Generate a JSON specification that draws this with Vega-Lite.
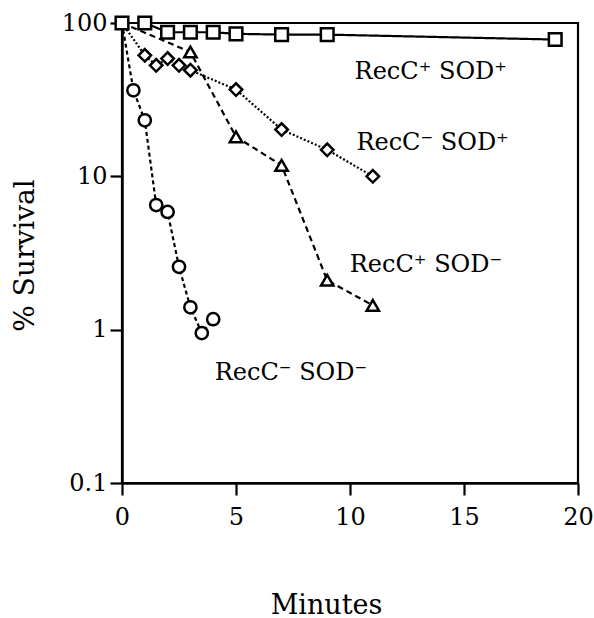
{
  "$schema": "https://vega.github.io/schema/vega-lite/v6.json",
  "autosize": "none",
  "width": 456,
  "height": 460,
  "padding": {"left": 122, "top": 23, "right": 16, "bottom": 135},
  "background": "white",
  "config": {
    "font": "DejaVu Serif",
    "view": {"stroke": "black", "strokeWidth": 2.2},
    "axis": {"grid": false, "domainColor": "black", "domainWidth": 2.5, "tickColor": "black", "tickWidth": 2.2, "tickSize": 12, "labelFont": "DejaVu Serif", "labelFontSize": 24, "labelColor": "black", "titleFont": "DejaVu Serif", "titleColor": "black", "titleFontWeight": "normal"}
  },
  "datasets": {
    "survival": [
      {"strain": "RecC+ SOD+", "minutes": 0, "survival": 100},
      {"strain": "RecC+ SOD+", "minutes": 1, "survival": 100},
      {"strain": "RecC+ SOD+", "minutes": 2, "survival": 87},
      {"strain": "RecC+ SOD+", "minutes": 3, "survival": 87},
      {"strain": "RecC+ SOD+", "minutes": 4, "survival": 87},
      {"strain": "RecC+ SOD+", "minutes": 5, "survival": 85},
      {"strain": "RecC+ SOD+", "minutes": 7, "survival": 84},
      {"strain": "RecC+ SOD+", "minutes": 9, "survival": 84},
      {"strain": "RecC+ SOD+", "minutes": 19, "survival": 78},
      {"strain": "RecC- SOD+", "minutes": 0, "survival": 100},
      {"strain": "RecC- SOD+", "minutes": 1, "survival": 61.6},
      {"strain": "RecC- SOD+", "minutes": 1.5, "survival": 53},
      {"strain": "RecC- SOD+", "minutes": 2, "survival": 58.6},
      {"strain": "RecC- SOD+", "minutes": 2.5, "survival": 53},
      {"strain": "RecC- SOD+", "minutes": 3, "survival": 49.2},
      {"strain": "RecC- SOD+", "minutes": 5, "survival": 36.8},
      {"strain": "RecC- SOD+", "minutes": 7, "survival": 20.2},
      {"strain": "RecC- SOD+", "minutes": 9, "survival": 14.9},
      {"strain": "RecC- SOD+", "minutes": 11, "survival": 10},
      {"strain": "RecC+ SOD-", "minutes": 0, "survival": 100},
      {"strain": "RecC+ SOD-", "minutes": 3, "survival": 64.7},
      {"strain": "RecC+ SOD-", "minutes": 5, "survival": 18.1},
      {"strain": "RecC+ SOD-", "minutes": 7, "survival": 11.8},
      {"strain": "RecC+ SOD-", "minutes": 9, "survival": 2.1},
      {"strain": "RecC+ SOD-", "minutes": 11, "survival": 1.44},
      {"strain": "RecC- SOD-", "minutes": 0, "survival": 100},
      {"strain": "RecC- SOD-", "minutes": 0.5, "survival": 36.4},
      {"strain": "RecC- SOD-", "minutes": 1, "survival": 23.2},
      {"strain": "RecC- SOD-", "minutes": 1.5, "survival": 6.5},
      {"strain": "RecC- SOD-", "minutes": 2, "survival": 5.86},
      {"strain": "RecC- SOD-", "minutes": 2.5, "survival": 2.57},
      {"strain": "RecC- SOD-", "minutes": 3, "survival": 1.4},
      {"strain": "RecC- SOD-", "minutes": 3.5, "survival": 0.95},
      {"strain": "RecC- SOD-", "minutes": 4, "survival": 1.17}
    ],
    "labels": [
      {"text": "RecC⁺ SOD⁺", "minutes": 10.2, "survival": 43.4},
      {"text": "RecC⁻ SOD⁺", "minutes": 10.28, "survival": 14.8},
      {"text": "RecC⁺ SOD⁻", "minutes": 9.99, "survival": 2.38},
      {"text": "RecC⁻ SOD⁻", "minutes": 4.07, "survival": 0.469}
    ]
  },
  "encoding": {
    "x": {"field": "minutes", "type": "quantitative", "scale": {"domain": [0, 20], "nice": false, "zero": false},
      "axis": {"values": [0, 5, 10, 15, 20], "title": "Minutes", "titleFontSize": 27, "titleX": 204, "titleY": 130, "titleAlign": "center", "titleBaseline": "alphabetic", "labelPadding": 10, "labelFlush": false}},
    "y": {"field": "survival", "type": "quantitative", "scale": {"type": "log", "domain": [0.1, 100], "nice": false},
      "axis": {"values": [0.1, 1, 10, 100], "format": "~g", "title": "% Survival", "titleFontSize": 28, "titleAngle": 270, "titleX": -89, "titleY": 232, "titleAlign": "center", "titleBaseline": "alphabetic", "labelPadding": 3, "labelFlush": false}}
  },
  "layer": [
    {
      "data": {"name": "survival"},
      "mark": {"type": "line", "color": "black", "strokeWidth": 2.2},
      "encoding": {
        "detail": {"field": "strain"},
        "strokeDash": {"field": "strain", "type": "nominal", "legend": null,
          "scale": {"domain": ["RecC+ SOD+", "RecC- SOD+", "RecC+ SOD-", "RecC- SOD-"], "range": [[1, 0], [2, 2], [6, 4], [4, 3]]}},
        "strokeWidth": {"field": "strain", "type": "nominal", "legend": null,
          "scale": {"domain": ["RecC+ SOD+", "RecC- SOD+", "RecC+ SOD-", "RecC- SOD-"], "range": [2.2, 2.6, 2.3, 3]}}
      }
    },
    {
      "data": {"name": "survival"},
      "transform": [{"filter": "datum.minutes > 0 || datum.strain == 'RecC+ SOD+'"}],
      "mark": {"type": "point", "filled": true, "fill": "white", "stroke": "black", "strokeWidth": 2.5, "opacity": 1},
      "encoding": {
        "shape": {"field": "strain", "type": "nominal", "legend": null,
          "scale": {"domain": ["RecC+ SOD+", "RecC- SOD+", "RecC+ SOD-", "RecC- SOD-"], "range": ["square", "diamond", "triangle-up", "circle"]}},
        "size": {"field": "strain", "type": "nominal", "legend": null,
          "scale": {"domain": ["RecC+ SOD+", "RecC- SOD+", "RecC+ SOD-", "RecC- SOD-"], "range": [160, 150, 120, 140]}}
      }
    },
    {
      "data": {"name": "labels"},
      "mark": {"type": "text", "font": "DejaVu Serif", "fontSize": 24, "align": "left", "baseline": "alphabetic", "color": "black"},
      "encoding": {"text": {"field": "text"}}
    }
  ]
}
